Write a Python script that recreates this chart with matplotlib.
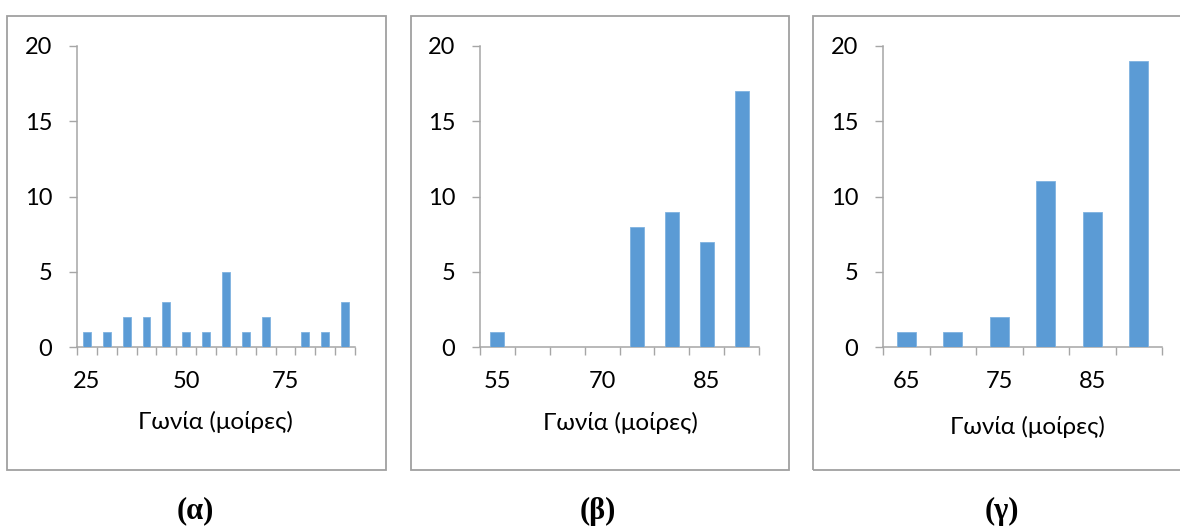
import matplotlib
matplotlib.use("Agg")
import matplotlib.pyplot as plt
from matplotlib.patches import Rectangle

# Angle categories (degrees) and counts for each histogram
angles_a = [25, 30, 35, 40, 45, 50, 55, 60, 65, 70, 75, 80, 85, 90]
counts_a = [1, 1, 2, 2, 3, 1, 1, 5, 1, 2, 0, 1, 1, 3]

angles_b = [55, 60, 65, 70, 75, 80, 85, 90]
counts_b = [1, 0, 0, 0, 8, 9, 7, 17]

angles_c = [65, 70, 75, 80, 85, 90]
counts_c = [1, 1, 2, 11, 9, 19]

label_step = [5, 3, 2]          # show every n-th category label
panel_tags = ["(α)", "(β)", "(γ)"]
xlabel_text = "Γωνία (μοίρες)"
y_ticks = [0, 5, 10, 15, 20]

W, H = 1180, 528
fig = plt.figure(figsize=(W / 100, H / 100), dpi=100)
fig.patch.set_facecolor("white")

BAR = "#5B9BD5"
AXIS = "#A6A6A6"
FRAME = "#A0A0A0"
FONT = "Lato"


def px_rect(x0, y0, x1, y1):
    """Pixel box (top-left origin) -> figure fraction [l, b, w, h]."""
    return [x0 / W, 1 - y1 / H, (x1 - x0) / W, (y1 - y0) / H]


# panel layout in pixels: frame box, plot area, label centres
frames = [(7, 16, 386, 470), (411, 16, 789, 470), (813, 16, 1190, 470)]
plots = [(77, 46, 355, 347), (480, 46, 759, 347), (883, 46, 1162, 347)]
xlabel_pos = [(215, 422), (620, 423), (1027, 427)]
tag_pos = [(195, 511), (598, 511), (1002, 511)]

data = [(angles_a, counts_a), (angles_b, counts_b), (angles_c, counts_c)]

for i, (cats, vals) in enumerate(data):
    # outer chart frame
    l, b, w, h = px_rect(*frames[i])
    fig.patches.append(Rectangle((l, b), w, h, transform=fig.transFigure,
                                 fill=False, edgecolor=FRAME, linewidth=1.3,
                                 zorder=0))

    ax = fig.add_axes(px_rect(*plots[i]))
    n = len(cats)
    pos = list(range(n))
    ax.bar(pos, vals, width=0.4, color=BAR, edgecolor="#7FB2E0",
           linewidth=0.6, zorder=3)

    ax.set_xlim(-0.5, n - 0.5)
    ax.set_ylim(0, 20)
    for s in ("top", "right"):
        ax.spines[s].set_visible(False)
    for s in ("left", "bottom"):
        ax.spines[s].set_color(AXIS)
        ax.spines[s].set_linewidth(1.1)

    # y axis
    ax.set_yticks(y_ticks)
    ax.set_yticklabels([str(t) for t in y_ticks], fontfamily=FONT,
                       fontsize=17)
    ax.tick_params(axis="y", direction="out", length=5.8, width=1.0,
                   color=AXIS, pad=12)

    # x axis: boundary ticks (major) and category labels (minor)
    ax.set_xticks([k - 0.5 for k in range(n + 1)])
    ax.set_xticklabels([])
    ax.tick_params(axis="x", which="major", direction="out", length=5.8,
                   width=1.0, color=AXIS)
    step = label_step[i]
    lab_idx = list(range(0, n, step))
    ax.set_xticks(lab_idx, minor=True)
    ax.set_xticklabels([str(cats[k]) for k in lab_idx], minor=True,
                       fontfamily=FONT, fontsize=17)
    ax.tick_params(axis="x", which="minor", length=0, pad=17)

    xl, yl = xlabel_pos[i]
    fig.text(xl / W, 1 - yl / H, xlabel_text, ha="center", va="center",
             fontfamily=FONT, fontsize=17.5)

    tx, ty = tag_pos[i]
    fig.text(tx / W, 1 - ty / H, panel_tags[i], ha="center", va="center",
             fontfamily="Liberation Serif", fontweight="bold", fontsize=22)

fig.savefig("out.png", dpi=100, facecolor="white")
